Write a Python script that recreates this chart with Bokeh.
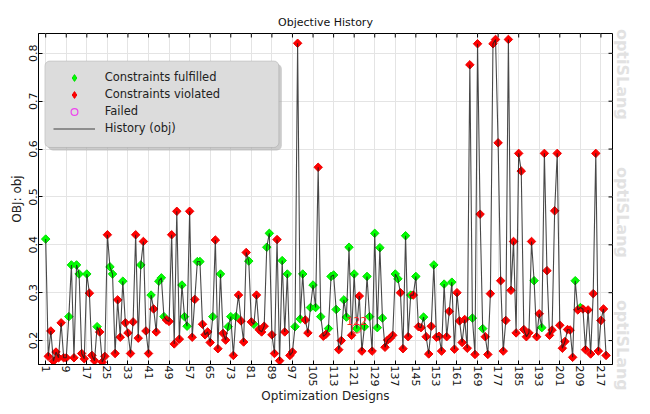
from math import pi
from bokeh.plotting import figure
from bokeh.models import (Range1d, FixedTicker, Legend, LegendItem, LinearAxis,
                          ColumnDataSource, Label, BoxAnnotation,
                          CustomJSTickFormatter)
from bokeh.embed import file_html
from bokeh.resources import INLINE

# ---------------- data ----------------
obj = [
    0.412, 0.167, 0.220, 0.157, 0.176, 0.164, 0.237, 0.164, 0.164, 0.250,
    0.358, 0.164, 0.358, 0.339, 0.173, 0.162, 0.339, 0.299, 0.169, 0.158,
    0.229, 0.218, 0.155, 0.167, 0.421, 0.354, 0.339, 0.173, 0.285, 0.207,
    0.324, 0.237, 0.216, 0.173, 0.239, 0.421, 0.205, 0.358, 0.407, 0.220,
    0.173, 0.295, 0.266, 0.218, 0.324, 0.331, 0.250, 0.243, 0.240, 0.421,
    0.193, 0.470, 0.203, 0.316, 0.250, 0.230, 0.470, 0.207, 0.286, 0.365,
    0.365, 0.234, 0.212, 0.218, 0.196, 0.250, 0.410, 0.183, 0.339, 0.215,
    0.201, 0.229, 0.250, 0.169, 0.250, 0.295, 0.241, 0.197, 0.384, 0.366,
    0.239, 0.234, 0.295, 0.223, 0.218, 0.230, 0.395, 0.424, 0.212, 0.173,
    0.411, 0.158, 0.367, 0.218, 0.339, 0.169, 0.176, 0.229, 0.821, 0.245,
    0.339, 0.243, 0.216, 0.269, 0.316, 0.269, 0.562, 0.250, 0.209, 0.213,
    0.225, 0.334, 0.337, 0.265, 0.181, 0.200, 0.285, 0.249, 0.395, 0.211,
    0.339, 0.225, 0.293, 0.178, 0.229, 0.334, 0.250, 0.178, 0.424, 0.227,
    0.394, 0.247, 0.186, 0.201, 0.205, 0.211, 0.339, 0.329, 0.300, 0.183,
    0.419, 0.208, 0.295, 0.295, 0.334, 0.229, 0.227, 0.249, 0.208, 0.172,
    0.230, 0.358, 0.207, 0.209, 0.178, 0.318, 0.208, 0.261, 0.322, 0.182,
    0.300, 0.241, 0.196, 0.244, 0.184, 0.776, 0.247, 0.171, 0.820, 0.464,
    0.225, 0.208, 0.171, 0.298, 0.820, 0.829, 0.613, 0.325, 0.178, 0.242,
    0.829, 0.305, 0.407, 0.216, 0.591, 0.554, 0.223, 0.208, 0.216, 0.407,
    0.325, 0.208, 0.256, 0.227, 0.591, 0.346, 0.211, 0.222, 0.471, 0.591,
    0.232, 0.184, 0.198, 0.223, 0.222, 0.165, 0.325, 0.264, 0.269, 0.266,
    0.181, 0.264, 0.172, 0.298, 0.591, 0.178, 0.242, 0.266, 0.169,
]
# 1 = constraints fulfilled, 0 = constraints violated
fulfilled = [
    1, 0, 0, 0, 0, 0, 0, 0, 0, 1,
    1, 0, 1, 1, 0, 0, 1, 0, 0, 0,
    1, 0, 0, 0, 0, 1, 1, 0, 0, 0,
    1, 0, 0, 0, 0, 0, 0, 1, 0, 0,
    0, 1, 0, 0, 1, 1, 1, 0, 0, 0,
    0, 0, 0, 1, 1, 1, 0, 0, 0, 1,
    1, 0, 0, 0, 0, 1, 0, 0, 1, 0,
    0, 1, 1, 0, 1, 0, 0, 0, 0, 1,
    0, 1, 0, 0, 0, 0, 1, 1, 0, 0,
    0, 0, 1, 0, 1, 0, 0, 1, 0, 1,
    1, 0, 0, 1, 1, 1, 0, 1, 0, 0,
    1, 1, 1, 1, 0, 0, 1, 1, 1, 0,
    1, 1, 0, 0, 1, 1, 1, 0, 1, 1,
    1, 1, 0, 0, 0, 0, 1, 1, 0, 0,
    1, 0, 1, 0, 1, 0, 0, 1, 0, 0,
    0, 1, 0, 0, 0, 1, 0, 0, 1, 0,
    0, 0, 0, 0, 0, 0, 1, 0, 0, 0,
    1, 0, 0, 0, 0, 0, 0, 0, 0, 0,
    0, 0, 0, 0, 0, 0, 0, 0, 0, 0,
    1, 0, 0, 1, 0, 0, 0, 0, 0, 0,
    0, 0, 0, 0, 0, 0, 1, 0, 1, 0,
    0, 0, 0, 0, 0, 0, 0, 0, 0,
]
design = list(range(1, len(obj) + 1))
x_ticks = list(range(1, 218, 8))
y_ticks = [0.2, 0.3, 0.4, 0.5, 0.6, 0.7, 0.8]
best_design = 122
watermark = "optiSLang"
watermark_at = [0.756, 0.4675, 0.19]

FONT = "DejaVu Sans"
X0, X1 = -1.8, 221.5
Y0, Y1 = 0.150, 0.8414

# ---------------- figure ----------------
p = figure(width=634, height=406,
           x_range=Range1d(X0, X1), y_range=Range1d(Y0, Y1),
           output_backend="svg", toolbar_location=None,
           title="Objective History",
           x_axis_label="Optimization Designs", y_axis_label="OBJ: obj",
           min_border_left=38, min_border_right=18, min_border_top=33,
           min_border_bottom=30)

p.title.align = "center"
p.title.text_font = FONT
p.title.text_font_size = "11px"
p.title.text_font_style = "normal"
p.title.text_color = "#111111"

p.outline_line_color = "black"
p.outline_line_alpha = 1.0
p.background_fill_color = "white"

for ax, ticks in ((p.xaxis, x_ticks), (p.yaxis, y_ticks)):
    ax.ticker = FixedTicker(ticks=ticks)
    ax.major_tick_in = 4
    ax.major_tick_out = 0
    ax.minor_tick_in = 0
    ax.minor_tick_out = 0
    ax.axis_line_color = "black"
    ax.major_tick_line_color = "black"
    ax.major_label_text_font = FONT
    ax.major_label_text_font_size = "11px"
    ax.major_label_text_color = "#111111"
    ax.major_label_orientation = "vertical"
    ax.major_label_standoff = 1
    ax.axis_label_text_font = FONT
    ax.axis_label_text_font_size = "12px"
    ax.axis_label_text_font_style = "normal"
    ax.axis_label_text_color = "#222222"
    ax.axis_label_standoff = 0
p.yaxis.axis_label_standoff = 3

p.xgrid.ticker = FixedTicker(ticks=x_ticks)
p.ygrid.ticker = FixedTicker(ticks=y_ticks)
p.xgrid.grid_line_color = "#e4e4e4"
p.ygrid.grid_line_color = "#e4e4e4"

# watermark as labels of a tick-less right-hand axis
wm_axis = LinearAxis(ticker=FixedTicker(ticks=watermark_at),
                     formatter=CustomJSTickFormatter(
                         code="return '%s';" % watermark),
                     major_tick_in=0, major_tick_out=0,
                     minor_tick_in=0, minor_tick_out=0,
                     axis_line_alpha=0, major_label_standoff=0,
                     major_label_orientation="vertical",
                     major_label_text_font=FONT,
                     major_label_text_font_size="16px",
                     major_label_text_line_height=0.6,
                     major_label_text_font_style="bold",
                     major_label_text_color="#e2e2e2")
p.add_layout(wm_axis, "right")

# mirrored inward ticks on the top and right frame edges
tick_dy = 4 * (Y1 - Y0) / 331.0
tick_dx = 4 * (X1 - X0) / 578.0
p.segment(x0=x_ticks, y0=[Y1] * len(x_ticks), x1=x_ticks,
          y1=[Y1 - tick_dy] * len(x_ticks), line_color="black", line_width=1)
p.segment(x0=[X1] * len(y_ticks), y0=y_ticks, x1=[X1 - tick_dx] * len(y_ticks),
          y1=y_ticks, line_color="black", line_width=1)

# ---------------- data glyphs ----------------
ok_src = ColumnDataSource(dict(
    x=[d for d, f in zip(design, fulfilled) if f],
    y=[v for v, f in zip(obj, fulfilled) if f]))
bad_src = ColumnDataSource(dict(
    x=[d for d, f in zip(design, fulfilled) if not f],
    y=[v for v, f in zip(obj, fulfilled) if not f]))

p.scatter("x", "y", source=ok_src, marker="square", angle=pi / 4,
          size=6, fill_color="#00ff00", line_color="#00dd00")
p.scatter("x", "y", source=bad_src, marker="square", angle=pi / 4,
          size=6, fill_color="#ff0000", line_color="#ee0000")
r_line = p.line(design, obj, line_color="#1a1a1a", line_alpha=0.8,
                line_width=1.1)

# legend-only renderers (no visible data)
nan = float("nan")
lg_ok = p.scatter([nan], [nan], marker="diamond", size=8,
                  fill_color="#00ff00", line_color="#00dd00")
lg_bad = p.scatter([nan], [nan], marker="diamond", size=8,
                   fill_color="#ff0000", line_color="#ee0000")
lg_fail = p.scatter([nan], [nan], marker="circle", size=7, fill_alpha=0,
                    line_color="#ee44ee", line_width=1.2)

# best design marker + label
bi = best_design - 1
p.scatter([best_design], [obj[bi]], marker="circle", size=9,
          fill_alpha=0, line_color="#ff3333", line_width=1)
p.add_layout(Label(x=best_design, y=obj[bi], text=str(best_design),
                   text_color="#ff2222", text_font=FONT,
                   text_font_size="11px", text_align="center",
                   text_baseline="bottom", y_offset=4))

# ---------------- legend ----------------
p.add_layout(BoxAnnotation(left=1.85, right=92.85, top=0.7777, bottom=0.5970,
                           fill_color="#a8a8a8", fill_alpha=0.6,
                           line_alpha=0, border_radius=5))
p.add_layout(BoxAnnotation(left=0.69, right=91.69, top=0.7840, bottom=0.6033,
                           fill_color="#dcdcdc", fill_alpha=1.0,
                           line_color="#8a8a8a", line_width=1,
                           border_radius=5))

legend = Legend(items=[
    LegendItem(label="Constraints fulfilled", renderers=[lg_ok]),
    LegendItem(label="Constraints violated", renderers=[lg_bad]),
    LegendItem(label="Failed", renderers=[lg_fail]),
    LegendItem(label="History (obj)", renderers=[r_line]),
], location=(14.7, 227.4), padding=0, margin=0, spacing=0,
    glyph_width=42, glyph_height=17, label_height=17, label_standoff=10,
    label_text_font=FONT, label_text_font_size="11.5px",
    label_text_color="#222222",
    background_fill_alpha=0, border_line_alpha=0)
p.add_layout(legend)

open("out.html", "w").write(file_html(p, INLINE))
